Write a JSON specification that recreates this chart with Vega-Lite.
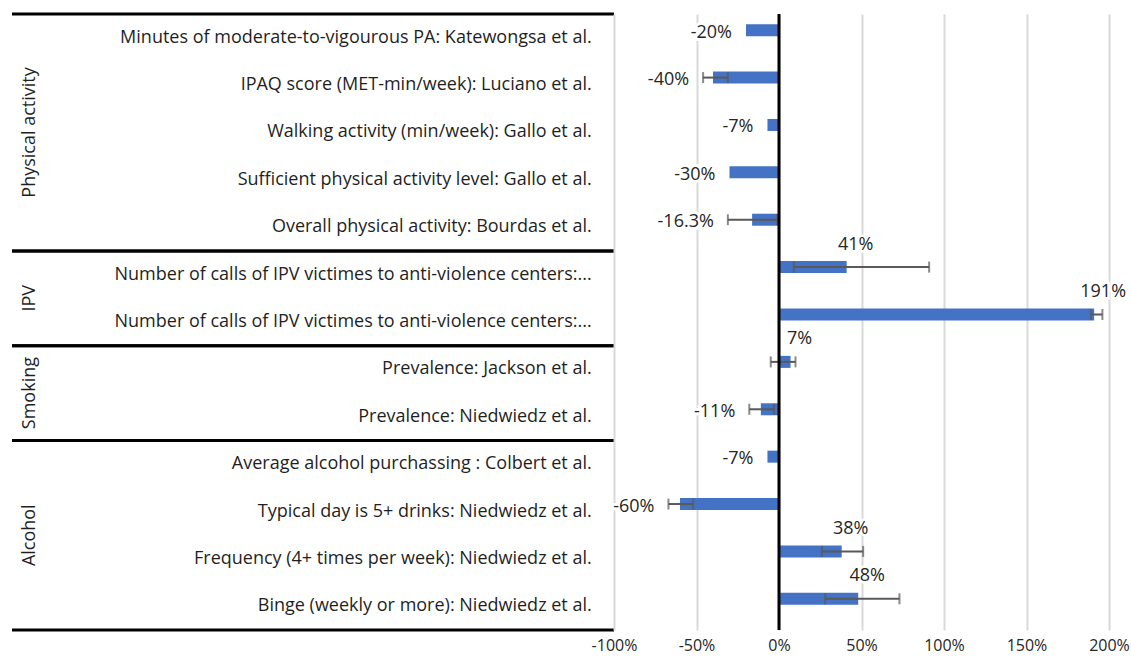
{
  "$schema": "https://vega.github.io/schema/vega-lite/v6.json",
  "usermeta": {"embedOptions": {"actions": false}},
  "padding": {"left": 10, "top": 12, "right": 0, "bottom": 6},
  "background": "white",
  "bounds": "flush",
  "spacing": 0,
  "config": {"view": {"stroke": null}, "font": "Open Sans"},
  "datasets": {
    "rows": [
      {"idx": 0, "group": "Physical activity", "cat": "Minutes of moderate-to-vigourous PA: Katewongsa et al.", "pct": -20, "lo": null, "hi": null, "label": "-20%"},
      {"idx": 1, "group": "Physical activity", "cat": "IPAQ score (MET-min/week): Luciano et al.", "pct": -40, "lo": -46, "hi": -31, "label": "-40%"},
      {"idx": 2, "group": "Physical activity", "cat": "Walking activity (min/week): Gallo et al.", "pct": -7, "lo": null, "hi": null, "label": "-7%"},
      {"idx": 3, "group": "Physical activity", "cat": "Sufficient physical activity level: Gallo et al.", "pct": -30, "lo": null, "hi": null, "label": "-30%"},
      {"idx": 4, "group": "Physical activity", "cat": "Overall physical activity: Bourdas et al.", "pct": -16.3, "lo": -31, "hi": -1, "label": "-16.3%"},
      {"idx": 5, "group": "IPV", "cat": "Number of calls of IPV victimes to anti-violence centers:...", "pct": 41, "lo": 9, "hi": 91, "label": "41%"},
      {"idx": 6, "group": "IPV", "cat": "Number of calls of IPV victimes to anti-violence centers:...", "pct": 191, "lo": 189, "hi": 196, "label": "191%"},
      {"idx": 7, "group": "Smoking", "cat": "Prevalence: Jackson et al.", "pct": 7, "lo": -5, "hi": 10, "label": "7%"},
      {"idx": 8, "group": "Smoking", "cat": "Prevalence: Niedwiedz et al.", "pct": -11, "lo": -18, "hi": -3, "label": "-11%"},
      {"idx": 9, "group": "Alcohol", "cat": "Average alcohol purchassing : Colbert et al.", "pct": -7, "lo": null, "hi": null, "label": "-7%"},
      {"idx": 10, "group": "Alcohol", "cat": "Typical day is 5+ drinks: Niedwiedz et al.", "pct": -60, "lo": -67, "hi": -52, "label": "-60%"},
      {"idx": 11, "group": "Alcohol", "cat": "Frequency (4+ times per week): Niedwiedz et al.", "pct": 38, "lo": 26, "hi": 51, "label": "38%"},
      {"idx": 12, "group": "Alcohol", "cat": "Binge (weekly or more): Niedwiedz et al.", "pct": 48, "lo": 28, "hi": 73, "label": "48%"}
    ],
    "groups": [
      {"group": "Physical activity", "start": -0.5, "end": 4.5},
      {"group": "IPV", "start": 4.5, "end": 6.5},
      {"group": "Smoking", "start": 6.5, "end": 8.5},
      {"group": "Alcohol", "start": 8.5, "end": 12.5}
    ]
  },
  "hconcat": [
    {
      "width": 602,
      "height": 616,
      "layer": [
        {
          "data": {"name": "groups"},
          "mark": {"type": "rule", "strokeWidth": 3, "color": "#000000"},
          "encoding": {
            "y": {"field": "start", "type": "quantitative", "scale": {"domain": [-0.5, 12.5], "reverse": true, "nice": false, "zero": false}, "axis": null}
          }
        },
        {
          "data": {"name": "groups"},
          "mark": {"type": "rule", "strokeWidth": 3, "color": "#000000"},
          "encoding": {
            "y": {"field": "end", "type": "quantitative"}
          }
        },
        {
          "data": {"name": "rows"},
          "mark": {"type": "text", "align": "right", "baseline": "middle", "fontSize": 18, "color": "#1f1f1f", "font": "Open Sans"},
          "encoding": {
            "x": {"datum": 0.963, "type": "quantitative", "scale": {"domain": [0, 1], "nice": false}, "axis": null},
            "y": {"field": "idx", "type": "quantitative"},
            "text": {"field": "cat"}
          }
        },
        {
          "data": {"name": "rows"},
          "mark": {"type": "text", "align": "center", "baseline": "middle", "angle": 270, "fontSize": 18, "color": "#1f1f1f", "font": "Open Sans"},
          "encoding": {
            "x": {"datum": 0.03, "type": "quantitative"},
            "y": {"aggregate": "mean", "field": "idx", "type": "quantitative"},
            "text": {"field": "group"}
          }
        }
      ]
    },
    {
      "width": 495,
      "height": 616,
      "data": {"name": "rows"},
      "layer": [
        {
          "transform": [
            {"filter": "datum.pct < 0"},
            {"fold": ["pct", "lo"], "as": ["k", "v"]},
            {"filter": "isValid(datum.v)"},
            {"aggregate": [{"op": "min", "field": "v", "as": "anchor"}], "groupby": ["idx", "label"]}
          ],
          "encoding": {
            "x": {"field": "anchor", "type": "quantitative", "title": null},
            "y": {"field": "idx", "type": "ordinal", "scale": {"paddingInner": 0, "paddingOuter": 0}, "axis": null},
            "text": {"field": "label"}
          },
          "layer": [
            {"mark": {"type": "text", "align": "right", "baseline": "middle", "dx": -14, "dy": -5, "fontSize": 18, "font": "Open Sans", "color": "white", "stroke": "white", "strokeWidth": 6}},
            {"mark": {"type": "text", "align": "right", "baseline": "middle", "dx": -14, "dy": -5, "fontSize": 18, "font": "Open Sans", "color": "#262626"}}
          ]
        },
        {
          "transform": [{"filter": "datum.pct > 0"}],
          "encoding": {
            "x": {"field": "pct", "type": "quantitative", "title": null},
            "y": {"field": "idx", "type": "ordinal"},
            "text": {"field": "label"}
          },
          "layer": [
            {"mark": {"type": "text", "align": "center", "baseline": "middle", "dx": 9, "dy": -30, "fontSize": 18, "font": "Open Sans", "color": "white", "stroke": "white", "strokeWidth": 5}},
            {"mark": {"type": "text", "align": "center", "baseline": "middle", "dx": 9, "dy": -30, "fontSize": 18, "font": "Open Sans", "color": "#262626"}}
          ]
        },
        {
          "mark": {"type": "bar", "height": 12, "yOffset": -7.5, "color": "#4472C4"},
          "encoding": {
            "x": {
              "field": "pct", "type": "quantitative", "title": null,
              "scale": {"domain": [-100, 200], "nice": false, "zero": false},
              "axis": {
                "values": [-100, -50, 0, 50, 100, 150, 200],
                "labelExpr": "datum.value + '%'",
                "grid": true, "gridColor": "#d9d9d9", "gridWidth": 2,
                "domain": false, "ticks": false,
                "labelFontSize": 16, "labelFont": "Open Sans", "labelColor": "#262626",
                "labelPadding": 7, "labelFlush": false, "labelOverlap": false, "title": null
              }
            },
            "y": {"field": "idx", "type": "ordinal"}
          }
        },
        {
          "transform": [{"filter": "isValid(datum.lo)"}],
          "mark": {"type": "rule", "color": "#595959", "strokeWidth": 2, "yOffset": -7.5},
          "encoding": {
            "x": {"field": "lo", "type": "quantitative", "title": null},
            "x2": {"field": "hi"},
            "y": {"field": "idx", "type": "ordinal"}
          }
        },
        {
          "transform": [{"filter": "isValid(datum.lo)"}, {"fold": ["lo", "hi"], "as": ["ck", "cv"]}],
          "mark": {"type": "tick", "color": "#595959", "thickness": 2, "size": 11, "yOffset": -7.5, "orient": "vertical"},
          "encoding": {
            "x": {"field": "cv", "type": "quantitative", "title": null},
            "y": {"field": "idx", "type": "ordinal"}
          }
        },
        {
          "data": {"values": [{"z": 0}]},
          "mark": {"type": "rule", "color": "#000000", "strokeWidth": 3},
          "encoding": {
            "x": {"field": "z", "type": "quantitative", "title": null}
          }
        }
      ]
    }
  ]
}
